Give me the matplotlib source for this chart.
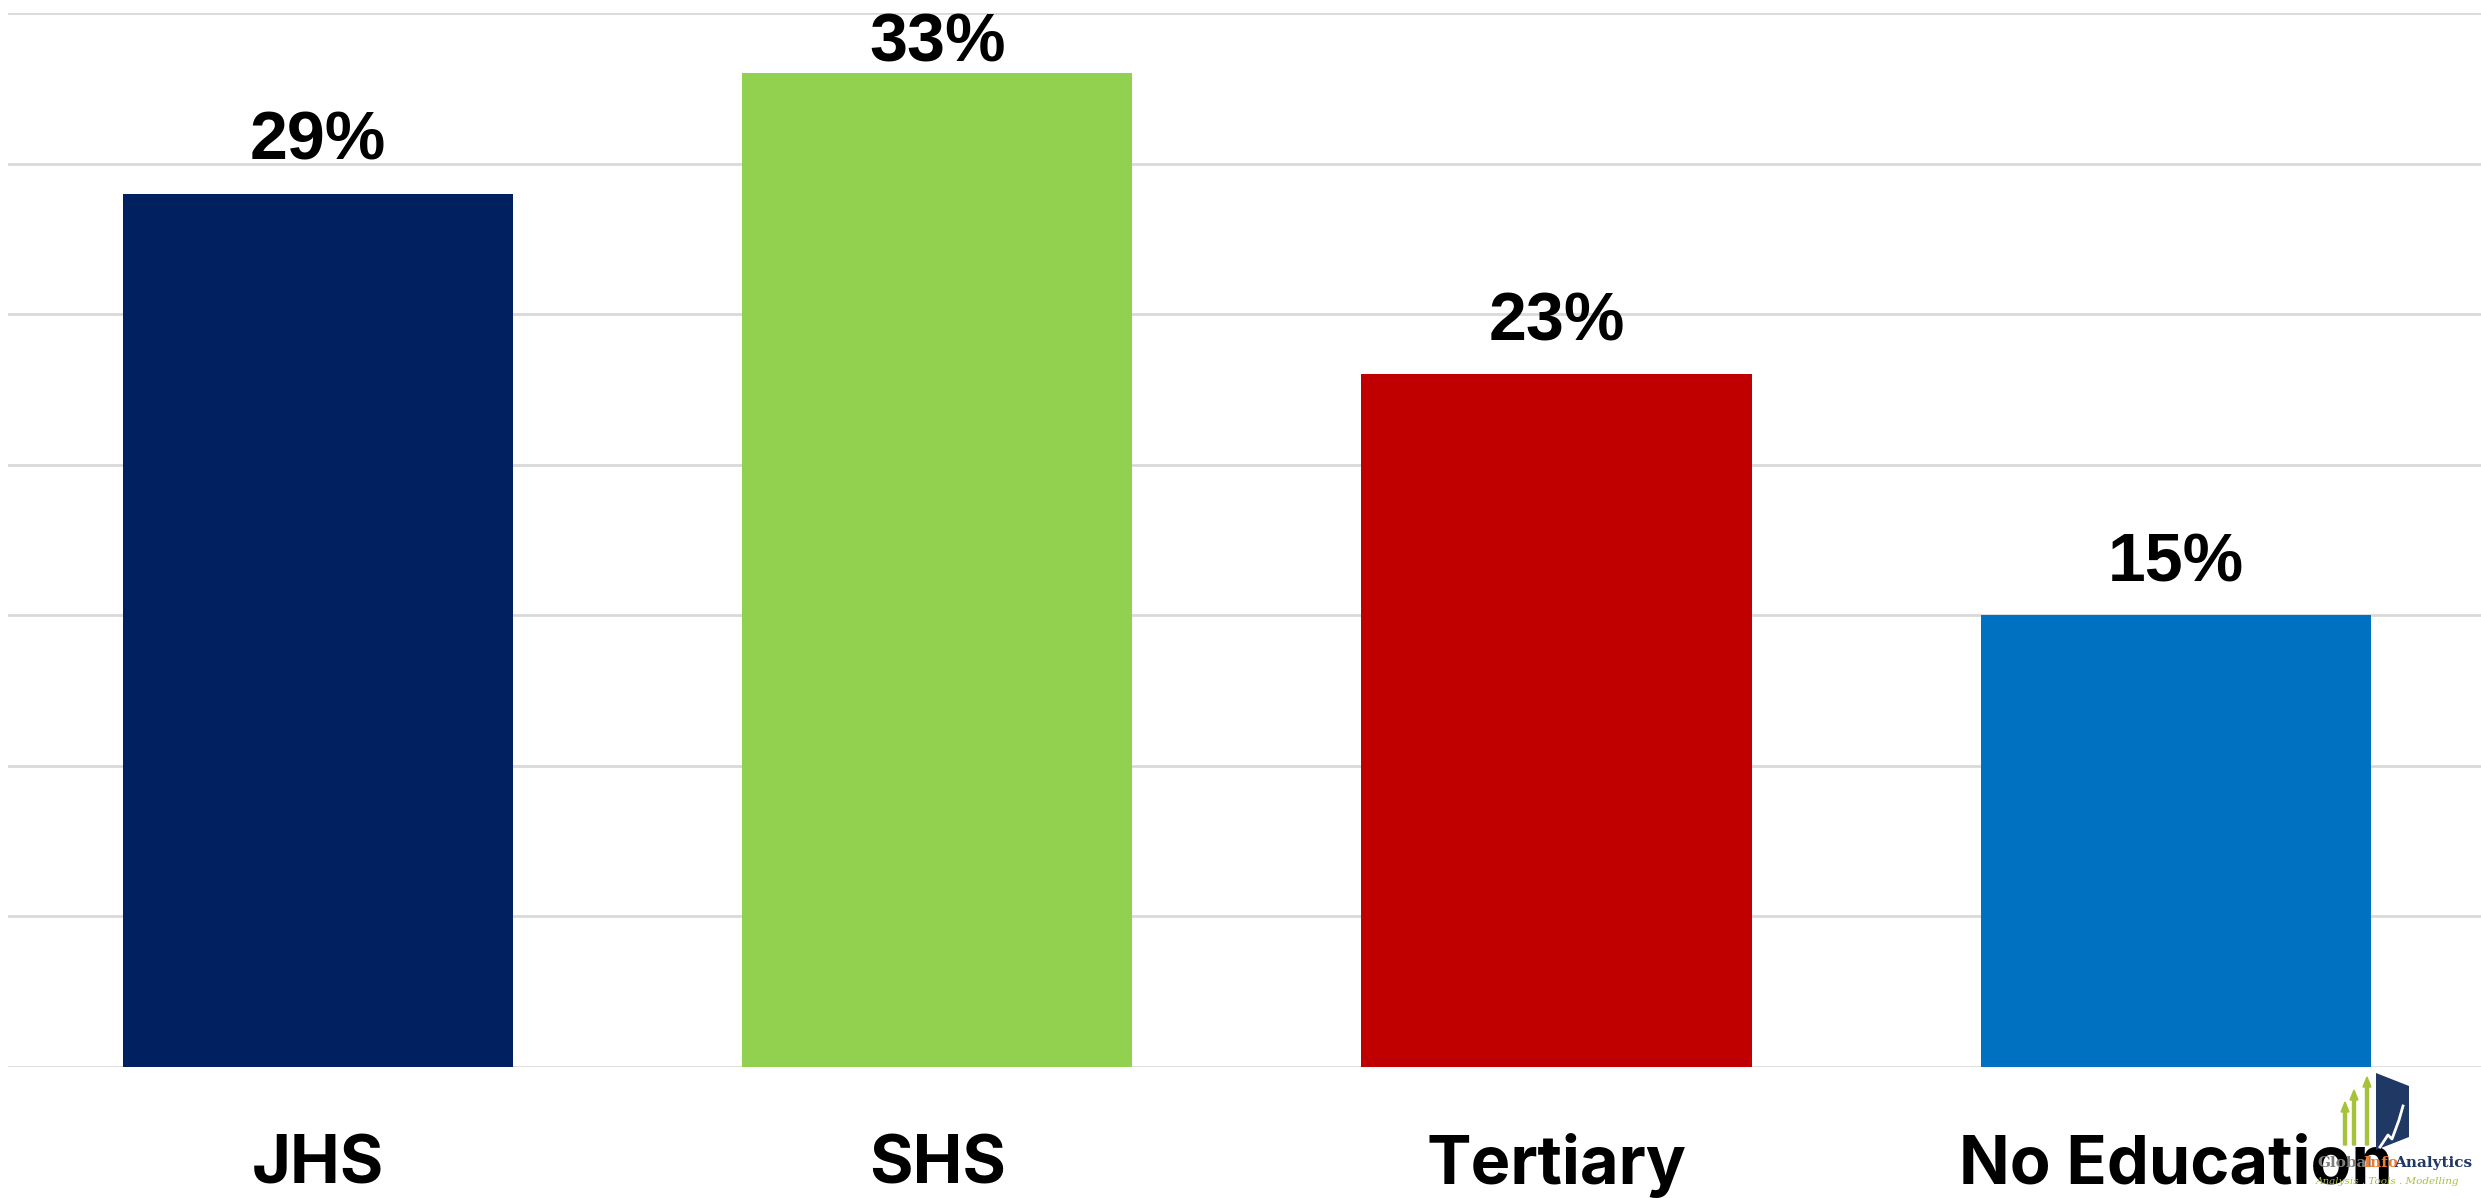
import matplotlib
matplotlib.use("Agg")
import matplotlib.pyplot as plt
from matplotlib.patches import Polygon, FancyArrow

# data
categories = ["JHS", "SHS", "Tertiary", "No Education"]
shares = [29, 33, 23, 15]
bar_colors = ["#002060", "#92D050", "#C00000", "#0070C0"]

W, H = 2481, 1198
fig = plt.figure(figsize=(W / 100, H / 100), dpi=100)
ax = fig.add_axes([8.4 / W, 1 - 1066.7 / H, 2477 / W, (1066.7 - 13) / H])

x = range(len(categories))
ax.bar(x, shares, width=0.63, color=bar_colors, zorder=3)
ax.set_xlim(-0.5, 3.5)
ax.set_ylim(0, 35)
ax.set_yticks(range(0, 36, 5))
ax.yaxis.grid(True, color="#d9d9d9", linewidth=2)
ax.set_axisbelow(True)
for s in ax.spines.values():
	s.set_visible(False)
ax.tick_params(left=False, bottom=False, labelleft=False, labelbottom=False)

# value labels above bars, kept inside the plot like Excel does
top_limit = 35 - 48 / 30.1
for i, v in enumerate(shares):
	y = min(v + 34 / 30.1, top_limit)
	ax.text(i, y, f"{v}%", ha="center", va="baseline", fontsize=49,
		fontweight="bold", family="Liberation Sans", zorder=5)

# category labels
for i, c in enumerate(categories):
	ax.text(i, -0.1113, c, transform=ax.get_xaxis_transform(), ha="center",
		va="baseline", fontsize=48, fontweight="bold", family=["Inter", "Roboto"], zorder=6)

# small logo in the bottom right corner
def px(xp, yp):
	return (xp / W, 1 - yp / H)

navy = "#1F3864"
green = "#A5C23A"
fig.patches.append(Polygon([px(2376, 1073), px(2409, 1086), px(2409, 1137), px(2376, 1150)],
	closed=True, transform=fig.transFigure, facecolor=navy, edgecolor="none", zorder=1))
fig.lines.append(plt.Line2D([2380 / W, 2388 / W, 2392 / W, 2399 / W, 2403 / W],
	[1 - 1147 / H, 1 - 1135 / H, 1 - 1139 / H, 1 - 1120 / H, 1 - 1106 / H],
	transform=fig.transFigure, color="white", linewidth=2, zorder=2))
for xa, ytop in [(2345, 1102), (2354, 1090), (2367, 1077)]:
	fig.patches.append(FancyArrow(xa / W, 1 - 1145 / H, 0, (1145 - ytop) / H, width=3 / W,
		head_width=8 / W, head_length=10 / H, length_includes_head=True,
		transform=fig.transFigure, color=green, zorder=1))
fig.text(2317 / W, 1 - 1163 / H, "Global", fontsize=11, fontweight="bold", family="DejaVu Serif",
	color="#7f7f7f", va="center", ha="left", zorder=1)
fig.text(2363 / W, 1 - 1163 / H, "Info", fontsize=11, fontweight="bold", family="DejaVu Serif",
	color="#ED7D31", va="center", ha="left", zorder=1)
fig.text(2394 / W, 1 - 1163 / H, "Analytics", fontsize=11, fontweight="bold", family="DejaVu Serif",
	color=navy, va="center", ha="left", zorder=1)
fig.text(2316 / W, 1 - 1181 / H, "Analysis . Tools . Modelling", fontsize=7.5, style="italic",
	family="DejaVu Serif", color=green, va="center", ha="left", zorder=1)

fig.savefig("out.png", dpi=100, facecolor="white")
